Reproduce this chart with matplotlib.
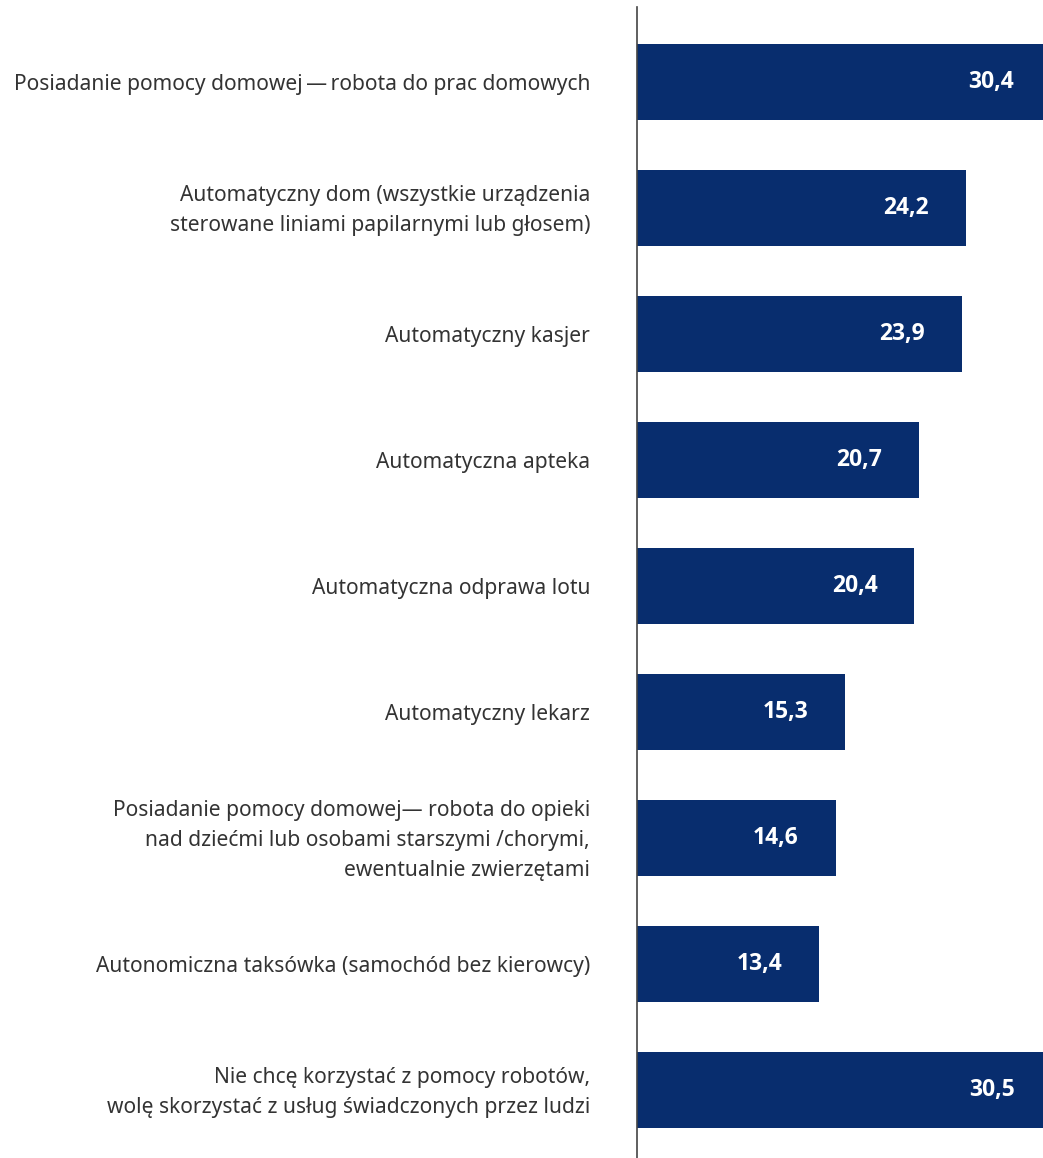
import matplotlib.pyplot as plt

plt.rcParams['font.family'] = ['Noto Sans', 'DejaVu Sans']

labels = [
    "Posiadanie pomocy domowej\u2009\u2014\u2009robota do prac domowych",
    "Automatyczny dom (wszystkie urządzenia\nsterowane liniami papilarnymi lub głosem)",
    "Automatyczny kasjer",
    "Automatyczna apteka",
    "Automatyczna odprawa lotu",
    "Automatyczny lekarz",
    "Posiadanie pomocy domowej\u2014 robota do opieki\nnad dziećmi lub osobami starszymi /chorymi,\newentualnie zwierzętami",
    "Autonomiczna taksówka (samochód bez kierowcy)",
    "Nie chcę korzystać z pomocy robotów,\nwolę skorzystać z usług świadczonych przez ludzi",
]
values = [30.4, 24.2, 23.9, 20.7, 20.4, 15.3, 14.6, 13.4, 30.5]

bar_color = '#082d6e'
text_color = '#333333'

W, H = 1043, 1158
fig = plt.figure(figsize=(W / 100, H / 100), dpi=100)
ax = fig.add_axes([637 / W, 0, 406 / W, (H - 7) / H])

ypos = list(range(len(values)))
ax.barh(ypos, values, height=0.603, color=bar_color)

ax.set_xlim(0, 406 / 13.6)
ax.set_ylim(8.54, -0.595)

for y, v, lab in zip(ypos, values, labels):
    ax.annotate(f"{v:.1f}".replace('.', ','), xy=(v, y), xytext=(-26.6, 0),
                textcoords='offset points', ha='right', va='center',
                color='white', fontsize=16.5, fontweight='bold',
                family=['Open Sans', 'DejaVu Sans'], annotation_clip=False)
    ax.annotate(lab, xy=(0, y), xytext=(-33.8, -1.5), textcoords='offset points',
                ha='right', va='center', color=text_color, fontsize=15.1,
                multialignment='right', linespacing=1.56,
                annotation_clip=False)

for s in ['top', 'right', 'bottom']:
    ax.spines[s].set_visible(False)
ax.spines['left'].set_color('#444444')
ax.spines['left'].set_linewidth(1.2)
ax.set_xticks([])
ax.set_yticks([])

fig.savefig('out.png', dpi=100)
